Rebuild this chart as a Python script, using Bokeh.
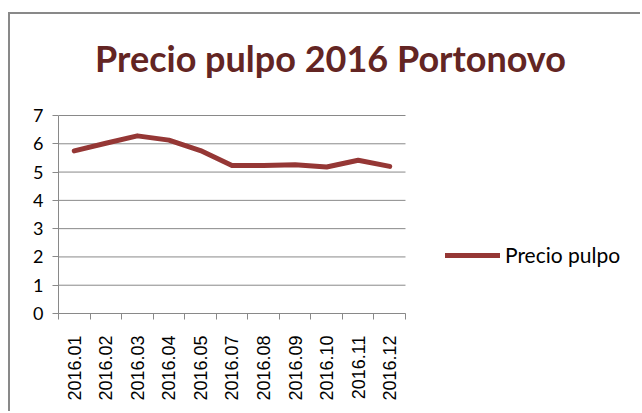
from bokeh.plotting import figure
from bokeh.models import FixedTicker, Legend, LegendItem, Range1d, Label
from bokeh.embed import file_html
from bokeh.resources import INLINE

months = ["2016.01", "2016.02", "2016.03", "2016.04", "2016.05", "2016.07",
          "2016.08", "2016.09", "2016.10", "2016.11", "2016.12"]
precio = [5.75, 6.02, 6.28, 6.13, 5.76, 5.23, 5.23, 5.26, 5.18, 5.42, 5.20]
y_ticks = [0, 1, 2, 3, 4, 5, 6, 7]
series_name = "Precio pulpo"
title_text = "Precio pulpo 2016 Portonovo"

xs = list(range(len(months)))
x_lo, x_hi = -0.5, len(months) - 0.5
y_lo, y_hi = y_ticks[0], y_ticks[-1]
GRAY = "#898989"
LINE = "#953735"

p = figure(width=632, height=399, output_backend="svg", toolbar_location=None,
           x_range=Range1d(x_lo, 18.013), y_range=Range1d(y_lo, 10.571),
           min_border_left=48, min_border_top=0, min_border_right=0,
           min_border_bottom=100,
           styles={"border-top": f"2px solid {GRAY}", "border-left": f"2px solid {GRAY}",
                   "margin-top": "12px", "margin-left": "8px"})
p.outline_line_color = None
p.background_fill_color = "white"
p.border_fill_color = "white"

# horizontal gridlines limited to the plot area
p.segment(x0=[x_lo] * len(y_ticks), x1=[x_hi] * len(y_ticks), y0=y_ticks, y1=y_ticks,
          line_color=GRAY, line_width=1)

r = p.line(xs, precio, line_color=LINE, line_width=5, line_cap="round", line_join="round")

# x axis
p.xaxis.ticker = FixedTicker(ticks=xs, minor_ticks=[i - 0.5 for i in range(len(months) + 1)])
p.xaxis.bounds = (x_lo, x_hi)
p.xaxis.major_label_overrides = {i: m for i, m in enumerate(months)}
p.xaxis.major_label_orientation = 1.5708
p.xaxis.major_tick_line_color = None
p.xaxis.major_tick_out = 0
p.xaxis.major_tick_in = 0
p.xaxis.minor_tick_line_color = GRAY
p.xaxis.minor_tick_out = 6
p.xaxis.minor_tick_in = 0
p.xaxis.axis_line_color = GRAY
p.xaxis.major_label_text_font = "Liberation Sans"
p.xaxis.major_label_text_font_size = "18px"
p.xaxis.major_label_text_color = "black"
p.xaxis.major_label_standoff = 16
p.xgrid.grid_line_color = None

# y axis
p.yaxis.ticker = FixedTicker(ticks=y_ticks)
p.yaxis.bounds = (y_lo, y_hi)
p.yaxis.axis_line_color = GRAY
p.yaxis.major_tick_line_color = GRAY
p.yaxis.major_tick_out = 6
p.yaxis.major_tick_in = 0
p.yaxis.minor_tick_line_color = None
p.yaxis.major_label_text_font = "Lato"
p.yaxis.major_label_text_font_size = "18px"
p.yaxis.major_label_text_color = "black"
p.yaxis.major_label_standoff = 9
p.ygrid.grid_line_color = None

# title
t = Label(x=272, y=256, x_units="screen", y_units="screen", text=title_text,
          text_font="Lato", text_font_style="bold", text_font_size="36px",
          text_color="#632523", text_align="center", text_baseline="alphabetic")
p.add_layout(t)

legend = Legend(items=[LegendItem(label=series_name, renderers=[r])],
                location=(387, 46), padding=0, margin=0, glyph_width=55,
                glyph_height=22, label_standoff=5, border_line_color=None,
                background_fill_alpha=0, label_text_font="Lato",
                label_text_font_size="21px", label_text_color="black")
p.add_layout(legend, "center")

open("out.html", "w").write(file_html(p, INLINE))
